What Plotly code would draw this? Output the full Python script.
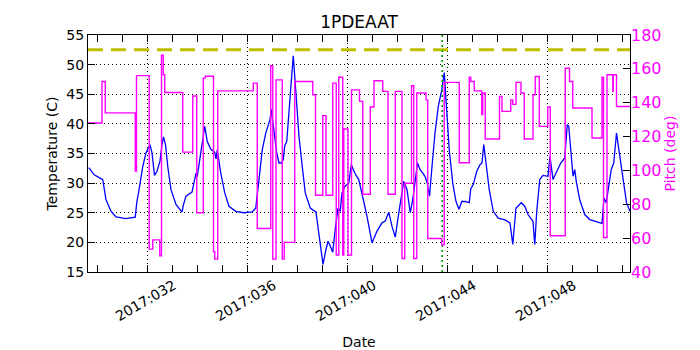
import plotly.graph_objects as go

# Temperature (day of year 2017, deg C)
temp_day = [29.64, 29.86, 30.13, 30.20, 30.33, 30.53, 30.73, 31.13, 31.50, 31.56, 31.64, 31.80, 31.93,
            32.09, 32.17, 32.27, 32.37, 32.49, 32.57, 32.63, 32.71, 32.80, 32.93, 33.13, 33.37, 33.43,
            33.53, 33.77, 33.93, 33.98, 34.12, 34.28, 34.38, 34.52, 34.68, 34.73, 34.78, 34.92, 35.08,
            35.25, 35.52, 35.85, 36.18, 36.32, 36.45, 36.58, 36.72, 36.89, 36.94, 37.05, 37.16, 37.25,
            37.34, 37.42, 37.48, 37.56, 37.65, 37.74, 37.82, 37.92, 38.05, 38.18, 38.30, 38.50, 38.73,
            38.84, 39.01, 39.13, 39.21, 39.30, 39.40, 39.50, 39.61, 39.70, 39.77, 39.88, 40.04, 40.14,
            40.28, 40.44, 40.54, 40.64, 40.77, 40.97, 41.17, 41.37, 41.50, 41.64, 41.77, 41.90, 42.06,
            42.24, 42.37, 42.50, 42.60, 42.79, 42.89, 43.09, 43.18, 43.27, 43.36, 43.49, 43.62, 43.76,
            43.86, 43.96, 44.06, 44.20, 44.33, 44.45, 44.56, 44.69, 44.86, 44.92, 45.02, 45.16, 45.29,
            45.37, 45.44, 45.53, 45.66, 45.82, 46.02, 46.29, 46.49, 46.60, 46.73, 46.94, 47.08, 47.21,
            47.34, 47.41, 47.48, 47.56, 47.68, 47.81, 48.01, 48.09, 48.21, 48.34, 48.52, 48.68, 48.78,
            48.84, 48.94, 49.01, 49.08, 49.14, 49.28, 49.48, 49.68, 49.94, 50.17, 50.25, 50.34, 50.54,
            50.64, 50.75, 50.89, 51.02, 51.15, 51.29]
temp_val = [32.6, 31.4, 30.75, 30.6, 27.2, 25.25, 24.3, 24.0, 24.25, 26.7, 28.6, 32.8, 35.1,
            36.5, 35.1, 31.3, 32.0, 33.7, 36.5, 37.8, 36.5, 32.8, 28.9, 26.4, 25.1, 26.4,
            27.8, 28.5, 31.7, 31.1, 35.1, 39.6, 37.0, 35.75, 35.2, 34.1, 35.6, 31.7, 28.35,
            26.1, 25.25, 25.0, 25.15, 25.8, 30.6, 35.6, 38.45, 40.7, 42.4, 39.0, 35.1, 33.4,
            33.4, 33.95, 36.3, 37.0, 41.8, 48.0, 51.5, 45.7, 37.9, 32.8, 28.35, 25.8, 25.1,
            21.6, 16.3, 18.8, 20.2, 19.4, 18.35, 22.2, 25.8, 25.25, 28.35, 29.45, 30.0, 33.1,
            31.7, 30.6, 28.9, 26.9, 24.4, 19.9, 21.9, 23.3, 23.6, 25.1, 22.7, 20.9, 25.5,
            30.3, 28.9, 25.0, 27.2, 33.4, 32.3, 31.15, 30.0, 27.8, 32.3, 38.45, 42.9, 45.7,
            48.65, 42.9, 35.6, 30.0, 26.9, 25.6, 26.9, 26.9, 26.7, 29.0, 29.75, 32.0, 33.1,
            33.4, 36.5, 33.4, 28.9, 25.25, 24.1, 23.8, 23.3, 19.65, 25.8, 26.7, 26.1, 24.7,
            23.95, 23.55, 19.65, 25.25, 30.6, 31.3, 31.15, 34.5, 30.6, 31.7, 33.4, 34.25, 39.85,
            39.6, 34.5, 31.15, 32.3, 30.3, 27.2, 24.7, 23.85, 23.55, 23.2, 27.5, 26.7, 32.3,
            33.4, 38.45, 34.5, 30.0, 26.7, 25.25]

# Pitch (step changes: start day, deg)
pitch_day = [29.61, 30.17, 30.30, 31.50, 31.55, 32.06, 32.20, 32.48, 32.55, 32.62, 32.68, 33.40,
             33.80, 33.96, 34.22, 34.30, 34.63, 34.68, 34.80, 36.22, 36.38, 36.92, 37.00, 37.13,
             37.38, 37.46, 37.88, 38.60, 38.71, 39.00, 39.13, 39.40, 39.54, 39.64, 39.80, 39.84,
             40.01, 40.15, 40.47, 40.60, 40.90, 41.05, 41.40, 41.61, 41.90, 42.17, 42.28, 42.55,
             42.64, 42.76, 43.13, 43.20, 43.76, 43.86, 44.46, 44.86, 44.92, 45.06, 45.36, 45.40,
             45.50, 46.07, 46.17, 46.52, 46.60, 46.73, 46.93, 47.06, 47.41, 47.50, 47.66, 48.00,
             48.10, 48.70, 48.87, 49.00, 49.77, 50.17, 50.23, 50.37, 50.60, 50.62, 50.75, 51.29]
pitch_val = [128, 152.5, 134, 99.6, 156, 53.5, 59, 49.6, 168, 156.5, 146, 110.8,
             144, 75, 154.5, 155.6, 52, 47.6, 147, 151.6, 65.7, 161.8, 47.6, 153.5,
             47.6, 57.5, 152.5, 144.7, 85.3, 132.4, 85.3, 151.6, 50, 155, 50, 124.5,
             50, 147.6, 140.8, 85.9, 137.5, 153, 146.7, 85.9, 146.7, 48, 92.4, 150,
             48, 145.7, 141.7, 59.8, 56, 152, 104.5, 155, 152.5, 147, 133, 145.7,
             118.6, 143.7, 134.9, 141.7, 139, 152, 145.7, 118.6, 144.7, 155.5, 126, 137.5,
             61.4, 160.4, 152.5, 136.9, 119.2, 155, 60.4, 156.5, 146.7, 156.5, 137.8, 137.8]

tick_days = [32, 36, 40, 44, 48]
tick_labels = ["2017:032", "2017:036", "2017:040", "2017:044", "2017:048"]
x_range = [29.61, 51.29]
limit_temp = 52.5
event_day = 43.78

FONT = "DejaVu Sans"
fig = go.Figure()
fig.add_trace(go.Scatter(x=x_range, y=[limit_temp, limit_temp], mode="lines",
                         line=dict(color="#bfbf00", width=3, dash="15px,8px"),
                         hoverinfo="skip", showlegend=False))
fig.add_trace(go.Scatter(x=temp_day, y=temp_val, mode="lines",
                         line=dict(color="#0000ff", width=1.3), showlegend=False))
fig.add_trace(go.Scatter(x=pitch_day, y=pitch_val, mode="lines", yaxis="y2",
                         line=dict(color="#ff00ff", width=1.4, shape="hv"), showlegend=False))
fig.add_trace(go.Scatter(x=[event_day, event_day], y=[15, 55], mode="lines",
                         line=dict(color="#00a000", width=1.6, dash="2px,3px"),
                         showlegend=False))

fig.update_layout(
    width=692, height=342,
    margin=dict(l=80, r=70, t=27, b=78, autoexpand=False),
    paper_bgcolor="white", plot_bgcolor="white",
    font=dict(family=FONT, size=14, color="black"),
    title=dict(text="1PDEAAT", x=0.5, xref="paper", xanchor="center", y=0.959, yanchor="middle",
               font=dict(family=FONT, size=17, color="black"), automargin=False),
    xaxis=dict(range=x_range, tickmode="array", tickvals=tick_days, ticktext=tick_labels,
               tickangle=-30, ticks="inside", ticklen=7, tickcolor="black",
               showline=True, linecolor="black", linewidth=1.2, mirror="allticks",
               showgrid=True, gridcolor="black", griddash="1px,3px", gridwidth=1,
               zeroline=False, automargin=False,
               title=dict(text="Date", font=dict(size=14)),
               tickfont=dict(size=14), ticklabelshift=26, ticklabelstandoff=-1,
               minor=dict(ticks="inside", ticklen=4, dtick=1, tick0=0, tickcolor="black", showgrid=False)),
    yaxis=dict(range=[15, 55], dtick=5, ticks="inside", ticklen=7, tickcolor="black",
               showline=True, linecolor="black", linewidth=1.2, mirror=True,
               showgrid=True, gridcolor="black", griddash="1px,3px", gridwidth=1,
               zeroline=False, automargin=True,
               title=dict(text="Temperature (C)", standoff=5, font=dict(size=14)),
               tickfont=dict(size=14)),
    yaxis2=dict(range=[40, 180], dtick=20, overlaying="y", side="right", automargin=True,
                ticks="inside", ticklen=7, tickcolor="black", showgrid=False, zeroline=False,
                showline=False, tickfont=dict(size=16, color="#ff00ff"),
                title=dict(text="Pitch (deg)", font=dict(color="#ff00ff", size=14), standoff=4)),
)

fig.write_html("out.html")
